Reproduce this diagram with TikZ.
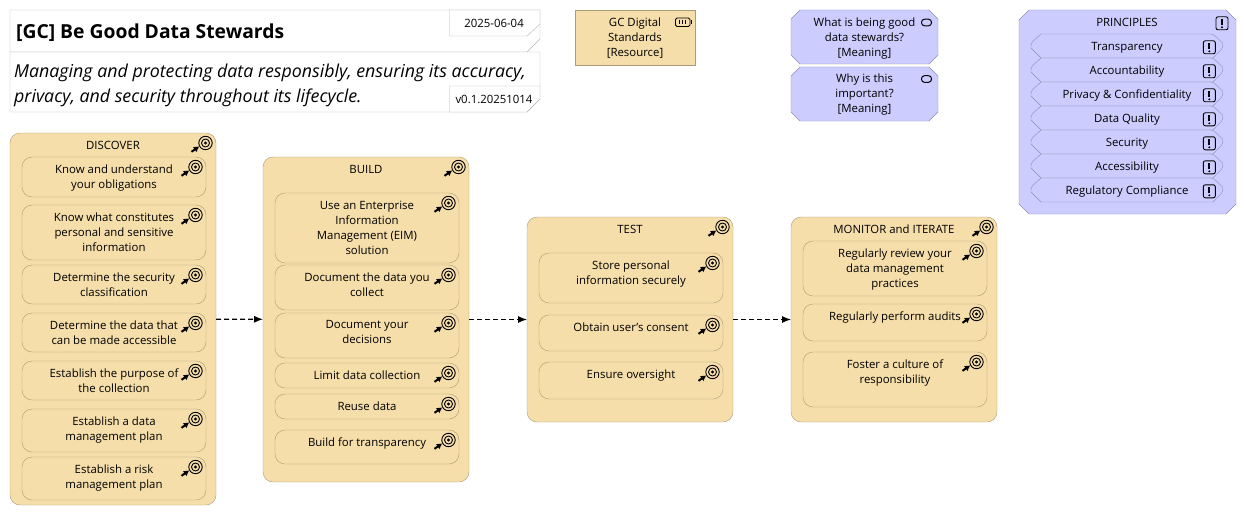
\documentclass[tikz,border=0pt]{standalone}
\usepackage{fontspec}
\setmainfont{Open Sans}
\usetikzlibrary{arrows.meta}
\definecolor{stagefill}{HTML}{F5DEAA}
\definecolor{stageline}{HTML}{AC9B77}
\definecolor{motivefill}{HTML}{CCCCFF}
\definecolor{motiveline}{HTML}{8F8FB3}
\definecolor{noteline}{HTML}{B4B4B4}
\tikzset{>=latex}
\tikzset{
    stage/.style={draw=stageline, fill=stagefill, rounded corners=10pt, minimum width=206pt, inner sep=0pt, outer sep=0pt},
    task/.style={draw=stageline, fill=stagefill, rounded corners=10pt, minimum width=184pt, inner sep=0pt, outer sep=0pt},
    motive/.style={draw=motiveline, fill=motivefill},
    label/.style={font=\fontsize{11.4}{15}\selectfont, align=center, inner sep=0pt, anchor=north, execute at begin node=\strut},
    flow/.style={line width=1.1pt, dash pattern=on 5pt off 3pt, -{Latex[length=9pt, width=7pt]}},
    noteedge/.style={draw=noteline, fill=white},
}
% goal icon, #1 is the box it sits in
\newcommand{\goalicon}[1]{
    \begin{scope}[shift={(#1.north east)}, shift={(-10.5, 10)}, line width=0.9pt]
        \draw (0, 0) circle [radius = 6.7];
        \draw (0, 0) circle [radius = 4];
        \fill (0, 0) circle [radius = 1.6];
        \draw[line width=2pt, -{Latex[length=5.5pt, width=6.5pt]}] (-14, 8.8) -- (-6.2, 3.4);
    \end{scope}
}
% #1 text offset, #2 name, #3 left, #4 top, #5 bottom, #6 text
\newcommand{\taskbox}[6][5.6]{
    \pgfmathsetmacro{\boxh}{#5 - #4}
    \pgfmathsetmacro{\boxy}{(#4 + #5) / 2}
    \node[task, minimum height=\boxh pt] (#2) at (#3 + 92, \boxy) {};
    \node[label] (#2-text) at (#3 + 92, #4 + #1) {#6};
    \goalicon{#2}
}
% #1 name, #2 left, #3 top, #4 bottom, #5 text
\newcommand{\stagebox}[5]{
    \pgfmathsetmacro{\boxh}{#4 - #3}
    \pgfmathsetmacro{\boxy}{(#3 + #4) / 2}
    \node[stage, minimum height=\boxh pt] (#1) at (#2 + 103, \boxy) {};
    \node[label] (#1-text) at (#2 + 103, #3 + 5.6) {#5};
    \goalicon{#1}
}
% #1 left, #2 top, #3 right, #4 bottom, #5 chamfer
\newcommand{\chamferbox}[5]{
    \draw[motive] (#1 + #5, #2) -- (#3 - #5, #2) -- (#3, #2 + #5) -- (#3, #4 - #5) -- (#3 - #5, #4) -- (#1 + #5, #4) -- (#1, #4 - #5) -- (#1, #2 + #5) -- cycle;
}
\newcommand{\warnicon}[2]{
    \draw[line width=0.9pt, rounded corners=2pt] (#1 - 6, #2 - 6.5) rectangle (#1 + 6, #2 + 6.5);
    \draw[line width=1.8pt] (#1, #2 - 4) -- (#1, #2 + 1.5);
    \fill (#1, #2 + 4) circle [radius = 1.1];
}
\newcommand{\thoughticon}[2]{
    \draw[line width=1pt, rounded corners=3pt] (#1 - 5, #2 - 3.3) rectangle (#1 + 5, #2 + 3.3);
}

\begin{document}
\begin{tikzpicture}[x=1pt, y=-1pt]
    \useasboundingbox (0, 0) rectangle (1246, 516);

    % title block
    \draw[noteedge] (10, 10) -- (540, 10) -- (540, 39) -- (527, 52) -- (10, 52) -- cycle;
    \draw[noteedge] (10, 52) -- (540, 52) -- (540, 99) -- (527, 112) -- (10, 112) -- cycle;
    \draw[noteedge] (449.5, 10) -- (540, 10) -- (540, 24) -- (527, 36) -- (449.5, 36) -- cycle;
    \draw[noteedge] (449.5, 86) -- (540, 86) -- (540, 99) -- (527, 112) -- (449.5, 112) -- cycle;
    \node[inner sep=0pt, anchor=west, font=\fontsize{19.3}{23}\selectfont\bfseries] (title) at (16, 33) {[GC] Be Good Data Stewards};
    \node[inner sep=0pt, anchor=north west, align=left, font=\fontsize{17.8}{25}\selectfont\itshape] (subtitle) at (14, 64) {Managing and protecting data responsibly, ensuring its accuracy,\\privacy, and security throughout its lifecycle.};
    \node[label, anchor=center] (date) at (494, 25) {2025-06-04};
    \node[label, anchor=center] (version) at (494, 101) {v0.1.20251014};

    % resource
    \node[draw=stageline, fill=stagefill, minimum width=119.5pt, minimum height=55pt, inner sep=0pt, outer sep=0pt] (standards) at (635, 37.5) {};
    \node[label] (standards-text) at (635, 17.6) {GC Digital\\Standards\\{[Resource]}};
    \draw[line width=0.8pt, rounded corners=1.5pt] (675.5, 18) rectangle (690, 26.5);
    \fill (690.5, 20.5) rectangle (692, 24);
    \foreach \x in {679, 682, 685} {
        \draw[line width=0.8pt] (\x, 20) -- (\x, 24.5);
    }

    % meanings
    \chamferbox{791}{10}{938}{64}{9}
    \node[label] (meaning-good) at (864.5, 17.6) {What is being good\\data stewards?\\{[Meaning]}};
    \thoughticon{926.5}{22.5}
    \chamferbox{791}{67}{938}{121}{9}
    \node[label] (meaning-why) at (864.5, 73.6) {Why is this\\important?\\{[Meaning]}};
    \thoughticon{926.5}{79}

    % principles
    \chamferbox{1019}{10}{1236}{214}{10}
    \node[label] (principles) at (1127, 15.6) {PRINCIPLES};
    \warnicon{1222}{23.3}
    \foreach \nm/\txt [count=\i from 0] in {transparency/Transparency, accountability/Accountability, privacy/Privacy \& Confidentiality, quality/Data Quality, security/Security, accessibility/Accessibility, compliance/Regulatory Compliance} {
        \pgfmathsetmacro{\ytop}{34 + 24 * \i}
        \draw[motive, rounded corners=2.5pt] (1041, \ytop) -- (1213, \ytop) [sharp corners] -- (1222.7, \ytop + 9) [rounded corners=2.5pt] -- (1222.7, \ytop + 14) [sharp corners] -- (1213, \ytop + 24) -- (1041, \ytop + 24) -- (1031, \ytop + 14) [rounded corners=2.5pt] -- (1031, \ytop + 9) [sharp corners] -- cycle;
        \node[label] (\nm) at (1127, \ytop + 5.6) {\txt};
        \warnicon{1209.3}{\ytop + 13.3}
    }

    % discover
    \stagebox{discover}{10}{133}{505}{DISCOVER}
    \taskbox[7.6]{obligations}{22}{157}{197}{Know and understand\\your obligations}
    \taskbox[7.6]{personal}{22}{205}{260}{Know what constitutes\\personal and sensitive\\information}
    \taskbox[7.6]{classification}{22}{265}{304}{Determine the security\\classification}
    \taskbox[7.6]{accessible}{22}{313}{352}{Determine the data that\\can be made accessible}
    \taskbox[7.6]{purpose}{22}{361}{400}{Establish the purpose of\\the collection}
    \taskbox[7.6]{dataplan}{22}{409}{452}{Establish a data\\management plan}
    \taskbox[7.6]{riskplan}{22}{457}{500}{Establish a risk\\management plan}

    % build
    \stagebox{build}{263}{157}{482}{BUILD}
    \taskbox[7.6]{eim}{275}{193}{263}{Use an Enterprise\\Information\\Management (EIM)\\solution}
    \taskbox[7.6]{collect}{275}{265}{310}{Document the data you\\collect}
    \taskbox[7.6]{decisions}{275}{313}{358}{Document your\\decisions}
    \taskbox{limit}{275}{363}{388}{Limit data collection}
    \taskbox{reuse}{275}{394}{419}{Reuse data}
    \taskbox{buildtransparency}{275}{430}{464}{Build for transparency}

    % test
    \stagebox{test}{527}{217}{422}{TEST}
    \taskbox[7.6]{store}{539}{253}{303}{Store personal\\information securely}
    \taskbox{consent}{539}{315}{351}{Obtain user's consent}
    \taskbox{oversight}{539}{362}{399}{Ensure oversight}

    % monitor
    \stagebox{monitor}{791}{217}{422}{MONITOR and ITERATE}
    \taskbox[7.6]{review}{803}{241}{296}{Regularly review your\\data management\\practices}
    \taskbox{audits}{803}{304}{341}{Regularly perform audits}
    \taskbox[7.6]{culture}{803}{352}{407}{Foster a culture of\\responsibility}

    \draw[flow] (discover) -- (build);
    \draw[flow] (build) -- (test);
    \draw[flow] (test) -- (monitor);
\end{tikzpicture}
\end{document}
